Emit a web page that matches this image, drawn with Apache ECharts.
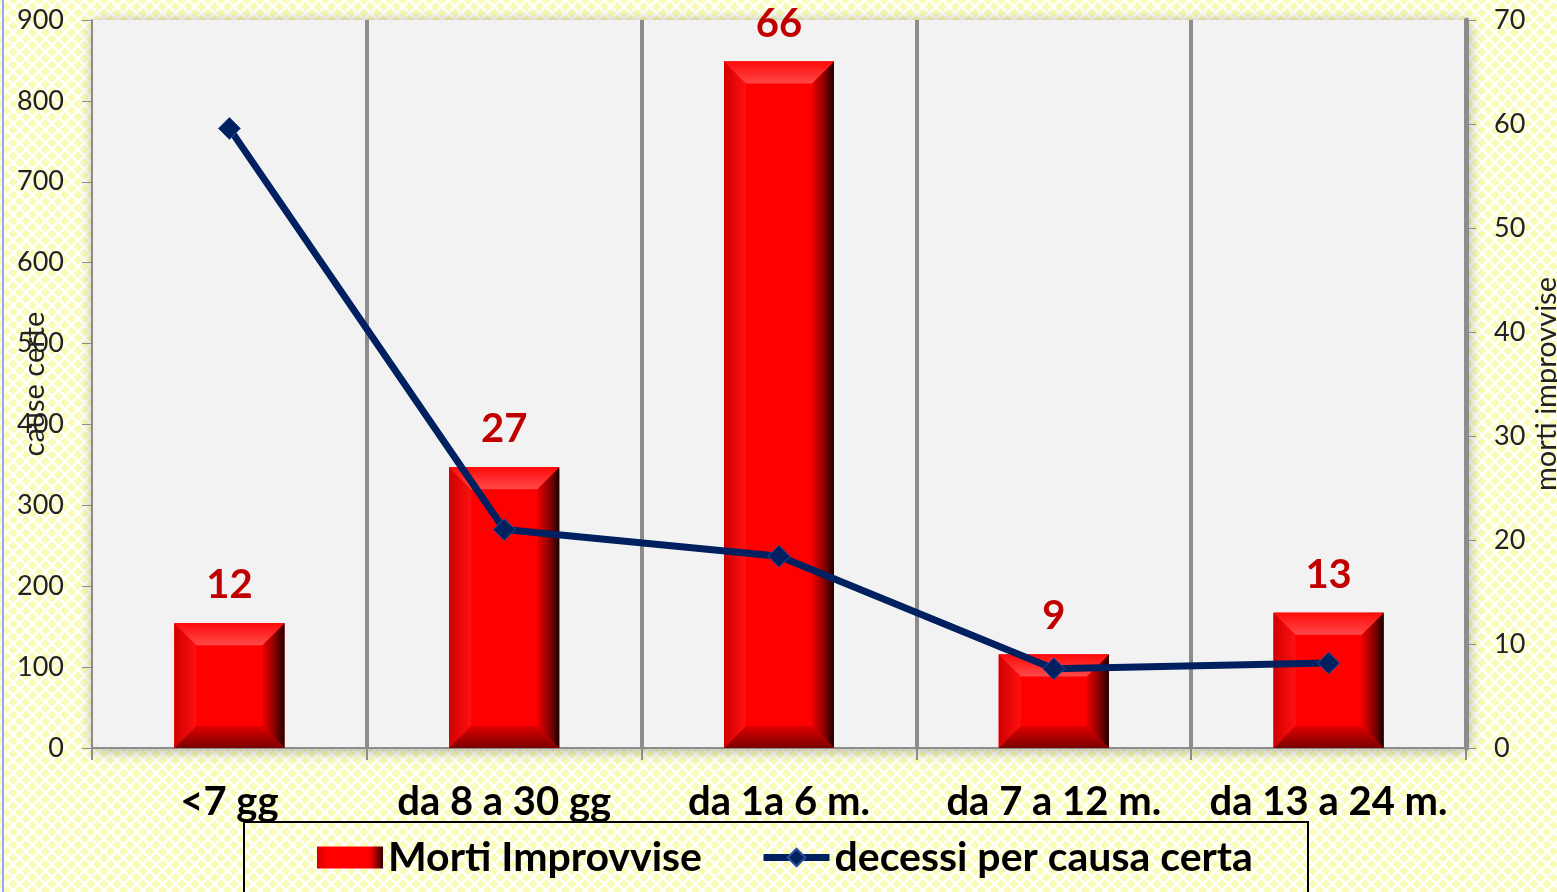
<!DOCTYPE html>
<html>
<head>
<meta charset="utf-8">
<script src="https://cdn.jsdelivr.net/npm/echarts@6/dist/echarts.min.js"></script>
<style>
  html, body { margin: 0; padding: 0; }
  #chart-container { width: 1557px; height: 892px; }
</style>
</head>
<body>
<div id="chart-container"></div>
<script>
var categories = ["<7 gg", "da 8 a 30 gg", "da 1a 6 m.", "da 7 a 12 m.", "da 13 a 24 m."];
var mortiImprovvise = [12, 27, 66, 9, 13];
var decessiCausaCerta = [766, 270, 237, 98, 105];
var leftTicks = { min: 0, max: 900, interval: 100 };
var rightTicks = { min: 0, max: 70, interval: 10 };

// checkered yellow background
function makePattern() {
  var c = document.createElement("canvas");
  c.width = 13;
  c.height = 13;
  var ctx = c.getContext("2d");
  ctx.fillStyle = "#ffffff";
  ctx.fillRect(0, 0, 13, 13);
  ctx.fillStyle = "#fbfbb8";
  function diamond(cx, cy, r) {
    ctx.beginPath();
    ctx.moveTo(cx, cy - r);
    ctx.lineTo(cx + r, cy);
    ctx.lineTo(cx, cy + r);
    ctx.lineTo(cx - r, cy);
    ctx.closePath();
    ctx.fill();
  }
  diamond(6.5, 6.5, 4.8);
  diamond(0, 0, 4.8);
  diamond(13, 0, 4.8);
  diamond(0, 13, 4.8);
  diamond(13, 13, 4.8);
  return c;
}

var dom = document.getElementById("chart-container");
var myChart = echarts.init(dom, null, { renderer: "canvas" });

var barFill = new echarts.graphic.LinearGradient(0, 0, 1, 0, [
  { offset: 0, color: "#d80000" },
  { offset: 0.15, color: "#ff0000" },
  { offset: 0.8, color: "#ff0000" },
  { offset: 1, color: "#300000" },
]);

function renderBevel(params, api) {
  var idx = api.value(0);
  var v = api.value(1);
  var top = api.coord([idx, v]);
  var base = api.coord([idx, 0]);
  var w = 110;
  var x0 = top[0] - w / 2, x1 = top[0] + w / 2;
  var y0 = top[1], y1 = base[1];
  var b = Math.min(22, (y1 - y0) / 2);
  return {
    type: "group",
    children: [
      { type: "rect", shape: { x: x0, y: y0, width: w, height: y1 - y0 }, style: { fill: "#ff0000" } },
      {
        type: "polygon",
        shape: { points: [[x0, y0], [x0 + b, y0 + b], [x0 + b, y1 - b], [x0, y1]] },
        style: {
          fill: new echarts.graphic.LinearGradient(0, 0, 1, 0, [
            { offset: 0, color: "#d00000" },
            { offset: 1, color: "#ff1010" },
          ]),
        },
      },
      {
        type: "polygon",
        shape: { points: [[x1, y0], [x1 - b, y0 + b], [x1 - b, y1 - b], [x1, y1]] },
        style: {
          fill: new echarts.graphic.LinearGradient(0, 0, 1, 0, [
            { offset: 0, color: "#ee0000" },
            { offset: 0.6, color: "#800000" },
            { offset: 1, color: "#1a0000" },
          ]),
        },
      },
      {
        type: "polygon",
        shape: { points: [[x0, y0], [x1, y0], [x1 - b, y0 + b], [x0 + b, y0 + b]] },
        style: {
          fill: new echarts.graphic.LinearGradient(0, 0, 0, 1, [
            { offset: 0, color: "#ff0a0a" },
            { offset: 1, color: "#ff4848" },
          ]),
        },
      },
      {
        type: "polygon",
        shape: { points: [[x0, y1], [x1, y1], [x1 - b, y1 - b], [x0 + b, y1 - b]] },
        style: {
          fill: new echarts.graphic.LinearGradient(0, 0, 0, 1, [
            { offset: 0, color: "#e00000" },
            { offset: 1, color: "#7a0000" },
          ]),
        },
      },
    ],
  };
}

var option = {
  backgroundColor: { image: makePattern(), repeat: "repeat" },
  textStyle: { fontFamily: "Lato" },
  grid: {
    left: 92,
    right: 91,
    top: 20,
    bottom: 144,
    outerBoundsMode: "none",
    containLabel: false,
    show: true,
    backgroundColor: "#f2f2f2",
    borderWidth: 0,
    shadowBlur: 14,
    shadowColor: "rgba(0,0,0,0.35)",
    shadowOffsetX: 2,
    shadowOffsetY: 2,
  },
  legend: {
    left: 312,
    top: 832,
    itemWidth: 66,
    itemHeight: 22,
    itemGap: 58,
    textStyle: { fontSize: 41, fontWeight: "bold", color: "#000", fontFamily: "Lato" },
    data: [
      { name: "Morti Improvvise", icon: "rect", itemStyle: { color: barFill } },
      { name: "decessi per causa certa", lineStyle: { width: 7, color: "#002060" } },
    ],
  },
  graphic: [
    {
      type: "rect",
      shape: { x: 244, y: 822, width: 1064, height: 120 },
      style: { fill: "none", stroke: "#000", lineWidth: 2 },
      z: 10,
    },
    {
      type: "rect",
      shape: { x: 2, y: 0, width: 2, height: 892 },
      style: { fill: "#93a9ef" },
    },
  ],
  xAxis: {
    type: "category",
    data: categories,
    axisLine: { lineStyle: { color: "#8c8c8c", width: 2 } },
    axisTick: { show: true, interval: 0, length: 12, lineStyle: { color: "#8c8c8c", width: 2 } },
    axisLabel: {
      interval: 0,
      hideOverlap: false,
      fontSize: 40,
      fontWeight: "bold",
      color: "#000",
      fontFamily: "Lato",
      margin: 34,
    },
    splitLine: { show: true, interval: 0, showMinLine: false, lineStyle: { color: "#8c8c8c", width: 4 } },
  },
  yAxis: [
    {
      type: "value",
      min: leftTicks.min,
      max: leftTicks.max,
      interval: leftTicks.interval,
      name: "cause certe",
      nameLocation: "middle",
      nameRotate: 90,
      nameGap: 43,
      nameMoveOverlap: false,
      nameTextStyle: { fontSize: 29, color: "#222", fontFamily: "Lato" },
      axisLine: { show: true, lineStyle: { color: "#8c8c8c", width: 2 } },
      axisTick: { show: true, length: 10, lineStyle: { color: "#8c8c8c", width: 1 } },
      axisLabel: { fontSize: 27, color: "#222", margin: 28 },
      splitLine: { show: false },
    },
    {
      type: "value",
      min: rightTicks.min,
      max: rightTicks.max,
      interval: rightTicks.interval,
      name: "morti improvvise",
      nameLocation: "middle",
      nameRotate: 90,
      nameGap: 66,
      nameMoveOverlap: false,
      nameTextStyle: { fontSize: 29, color: "#222", fontFamily: "Lato" },
      axisLine: { show: true, lineStyle: { color: "#8c8c8c", width: 5 } },
      axisTick: { show: true, length: 10, lineStyle: { color: "#8c8c8c", width: 1 } },
      axisLabel: { fontSize: 27, color: "#222", margin: 28 },
      splitLine: { show: false },
    },
  ],
  series: [
    {
      name: "Morti Improvvise",
      type: "bar",
      yAxisIndex: 1,
      barWidth: 110,
      data: mortiImprovvise,
      itemStyle: { color: barFill },
      label: {
        show: true,
        position: "top",
        distance: 18,
        fontSize: 40,
        fontWeight: "bold",
        color: "#c00000",
        fontFamily: "Lato",
      },
      z: 2,
    },
    {
      name: "bevel",
      type: "custom",
      yAxisIndex: 1,
      silent: true,
      renderItem: renderBevel,
      data: mortiImprovvise.map(function (v, i) { return [i, v]; }),
      encode: { x: 0, y: 1 },
      z: 3,
    },
    {
      name: "decessi per causa certa",
      type: "line",
      yAxisIndex: 0,
      data: decessiCausaCerta,
      symbol: "diamond",
      symbolSize: 22,
      lineStyle: { color: "#002060", width: 7 },
      itemStyle: { color: "#002060", borderColor: "#2e4f9e", borderWidth: 1 },
      z: 5,
    },
  ],
};

myChart.setOption(option);
window.addEventListener("resize", myChart.resize);
</script>
</body>
</html>
